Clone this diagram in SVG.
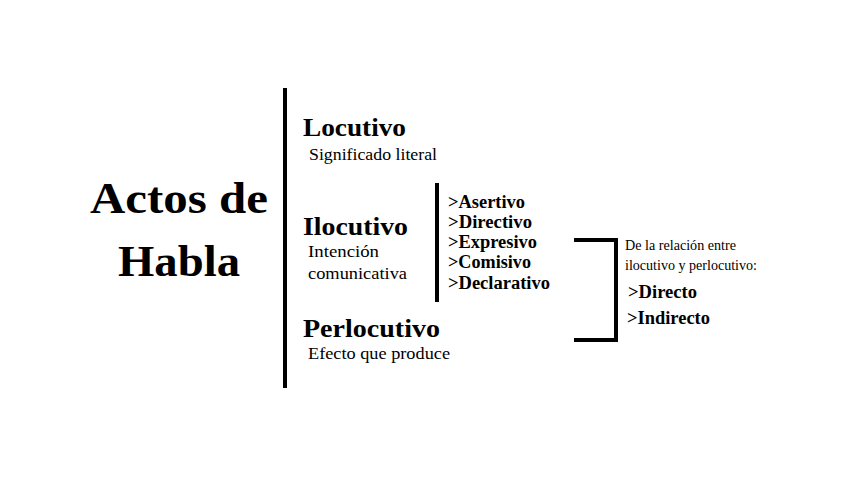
<svg xmlns="http://www.w3.org/2000/svg" width="848" height="477" viewBox="0 0 848 477">
<style>
text{font-family:"Liberation Serif","DejaVu Serif",serif;fill:#000}
.t{font-weight:bold;font-size:45px}
.h{font-weight:bold;font-size:26px}
.s{font-size:17px}
.l{font-weight:bold;font-size:18px}
.r{font-size:14px}
.line{stroke:#000;stroke-width:4;fill:none}
</style>
<rect width="848" height="477" fill="#fff"/>
<g id="connectors">
<line class="line" x1="285" y1="88" x2="285" y2="388"/>
<line class="line" x1="437" y1="183" x2="437" y2="302"/>
<polyline class="line" points="574,240 616,240 616,340 574,340"/>
</g>
<g id="title">
<text class="t" x="90" y="213" textLength="178" lengthAdjust="spacingAndGlyphs">Actos de</text>
<text class="t" x="118" y="276" textLength="122" lengthAdjust="spacingAndGlyphs">Habla</text>
</g>
<g id="locutivo">
<text class="h" x="303" y="136" textLength="103" lengthAdjust="spacingAndGlyphs">Locutivo</text>
<text class="s" x="309" y="160" textLength="128" lengthAdjust="spacingAndGlyphs">Significado literal</text>
</g>
<g id="ilocutivo">
<text class="h" x="303" y="235" textLength="105" lengthAdjust="spacingAndGlyphs">Ilocutivo</text>
<text class="s" x="308" y="257" textLength="71" lengthAdjust="spacingAndGlyphs">Intención</text>
<text class="s" x="308" y="279" textLength="99" lengthAdjust="spacingAndGlyphs">comunicativa</text>
</g>
<g id="perlocutivo">
<text class="h" x="303" y="337" textLength="137" lengthAdjust="spacingAndGlyphs">Perlocutivo</text>
<text class="s" x="308" y="359" textLength="142" lengthAdjust="spacingAndGlyphs">Efecto que produce</text>
</g>
<g id="tipos">
<text class="l" x="448" y="208" textLength="77" lengthAdjust="spacingAndGlyphs">&gt;Asertivo</text>
<text class="l" x="448" y="228" textLength="84" lengthAdjust="spacingAndGlyphs">&gt;Directivo</text>
<text class="l" x="448" y="248" textLength="89" lengthAdjust="spacingAndGlyphs">&gt;Expresivo</text>
<text class="l" x="448" y="268" textLength="83" lengthAdjust="spacingAndGlyphs">&gt;Comisivo</text>
<text class="l" x="448" y="289" textLength="102" lengthAdjust="spacingAndGlyphs">&gt;Declarativo</text>
</g>
<g id="relacion">
<text class="r" x="625" y="250" textLength="111" lengthAdjust="spacingAndGlyphs">De la relación entre</text>
<text class="r" x="625" y="270" textLength="132" lengthAdjust="spacingAndGlyphs">ilocutivo y perlocutivo:</text>
<text class="l" x="628" y="298" textLength="69" lengthAdjust="spacingAndGlyphs">&gt;Directo</text>
<text class="l" x="627" y="324" textLength="83" lengthAdjust="spacingAndGlyphs">&gt;Indirecto</text>
</g>
</svg>
